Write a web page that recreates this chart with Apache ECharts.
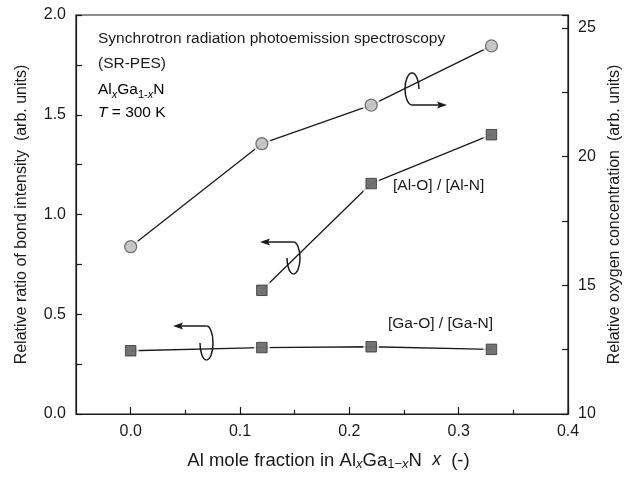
<!DOCTYPE html>
<html>
<head>
<meta charset="utf-8">
<script src="https://cdn.jsdelivr.net/npm/echarts@6/dist/echarts.min.js"></script>
<style>
html,body{margin:0;padding:0;background:#fff;}
#chart{width:631px;height:479px;}
</style>
</head>
<body>
<div id="chart"></div>
<script>
// ---- data ----
const oxygenX = [0, 0.12, 0.22, 0.33];
const oxygenConc = [16.5, 20.5, 22.0, 24.3];        // right axis
const alX = [0.12, 0.22, 0.33];
const alRatio = [0.62, 1.155, 1.40];                // [Al-O]/[Al-N], left axis
const gaX = [0, 0.12, 0.22, 0.33];
const gaRatio = [0.317, 0.333, 0.337, 0.324];       // [Ga-O]/[Ga-N], left axis
const xTicks = [0.0, 0.1, 0.2, 0.3, 0.4];
const xMinorTicks = [0.05, 0.15, 0.25, 0.35];
const leftTicks = [0.0, 0.5, 1.0, 1.5, 2.0];
const rightTicks = [10, 15, 20, 25];

const pairs = (xs, ys) => xs.map((x, i) => [x, ys[i]]);
const FONT = '"Liberation Sans", Arial, Helvetica, sans-serif';
const INK = '#1a1a1a';

const chart = echarts.init(document.getElementById('chart'), null, {renderer: 'canvas'});

function curl(cx, cy, rx, ry, dir, tipX) {
  const k = 0.5523;
  const els = [];
  const st = {stroke: INK, lineWidth: 1.5, fill: null};
  const q = (x1, y1, c1x, c1y, c2x, c2y, x2, y2) => ({
    type: 'bezierCurve', silent: true,
    shape: {x1, y1, cpx1: c1x, cpy1: c1y, cpx2: c2x, cpy2: c2y, x2, y2},
    style: st
  });
  let ay;
  if (dir === 'left') {
    ay = cy - ry;
    els.push(q(cx, cy - ry, cx + k * rx, cy - ry, cx + rx, cy - k * ry, cx + rx, cy));
    els.push(q(cx + rx, cy, cx + rx, cy + k * ry, cx + k * rx, cy + ry, cx, cy + ry));
    els.push(q(cx, cy + ry, cx - k * rx, cy + ry, cx - rx, cy + k * ry, cx - rx, cy));
    els.push({type: 'line', silent: true, shape: {x1: cx, y1: ay, x2: tipX + 8, y2: ay}, style: st});
    els.push({type: 'polygon', silent: true,
      shape: {points: [[tipX, ay], [tipX + 10, ay - 3.5], [tipX + 8, ay], [tipX + 10, ay + 3.5]]},
      style: {fill: INK}});
  } else {
    ay = cy + ry;
    els.push(q(cx, cy + ry, cx - k * rx, cy + ry, cx - rx, cy + k * ry, cx - rx, cy));
    els.push(q(cx - rx, cy, cx - rx, cy - k * ry, cx - k * rx, cy - ry, cx, cy - ry));
    els.push(q(cx, cy - ry, cx + k * rx, cy - ry, cx + rx, cy - k * ry, cx + rx, cy));
    els.push({type: 'line', silent: true, shape: {x1: cx, y1: ay, x2: tipX - 8, y2: ay}, style: st});
    els.push({type: 'polygon', silent: true,
      shape: {points: [[tipX, ay], [tipX - 10, ay - 3.5], [tipX - 8, ay], [tipX - 10, ay + 3.5]]},
      style: {fill: INK}});
  }
  return els;
}

const subRich = {
  n: {fontSize: 15.5, fontFamily: FONT, color: INK, lineHeight: 18, verticalAlign: 'top'},
  s: {fontSize: 11, fontFamily: FONT, color: INK, lineHeight: 12, padding: [9, 0, 0, 0], verticalAlign: 'bottom'},
  si: {fontSize: 11, fontFamily: FONT, color: INK, fontStyle: 'italic', lineHeight: 12, padding: [9, 0, 0, 0], verticalAlign: 'bottom'},
  i: {fontSize: 15.5, fontFamily: FONT, color: INK, fontStyle: 'italic', lineHeight: 18, verticalAlign: 'top'}
};
const nameRich = {
  n: {fontSize: 18.5, fontFamily: FONT, color: INK, lineHeight: 20, verticalAlign: 'top'},
  s: {fontSize: 13, fontFamily: FONT, color: INK, lineHeight: 14, padding: [10, 0, 0, 0], verticalAlign: 'bottom'},
  si: {fontSize: 13, fontFamily: FONT, color: INK, fontStyle: 'italic', lineHeight: 14, padding: [10, 0, 0, 0], verticalAlign: 'bottom'},
  i: {fontSize: 17.5, fontFamily: FONT, color: INK, fontStyle: 'italic', lineHeight: 20, verticalAlign: 'top'}
};

const leftFmt = v => {
  const hit = leftTicks.find(t => Math.abs(t - v) < 1e-9);
  return hit === undefined ? '' : hit.toFixed(1);
};
const rightFmt = v => {
  const hit = rightTicks.find(t => Math.abs(t - v) < 1e-9);
  return hit === undefined ? '' : String(hit);
};

const axisLineStyle = {color: INK, width: 1.2};

const option = {
  animation: false,
  backgroundColor: '#fff',
  grid: {left: 76, right: 63, top: 15, bottom: 65, show: true, borderColor: INK, borderWidth: 1.2, backgroundColor: 'transparent'},
  xAxis: [
    {
      type: 'value', min: -0.05, max: 0.4, interval: 0.05, position: 'bottom',
      axisLine: {show: true, onZero: false, lineStyle: axisLineStyle},
      axisTick: {show: true, inside: true, length: 7, customValues: xTicks, lineStyle: axisLineStyle},
      splitLine: {show: false},
      axisLabel: {customValues: xTicks, formatter: v => v.toFixed(1), fontSize: 16, fontFamily: FONT, color: INK, margin: 10},
      name: '{n|Al mole fraction in Al}{si|x}{n|Ga}{s|1−}{si|x}{n|N  }{i|x}{n|  (-)}',
      nameLocation: 'middle', nameGap: 37,
      nameTextStyle: {rich: nameRich, padding: [0, 0, 0, 13]}
    },
    {
      type: 'value', min: -0.05, max: 0.4, interval: 0.05, position: 'bottom', offset: 0,
      axisLine: {show: false},
      axisTick: {show: true, inside: true, length: 4, customValues: xMinorTicks, lineStyle: axisLineStyle},
      splitLine: {show: false},
      axisLabel: {show: false}
    }
  ],
  yAxis: [
    {
      type: 'value', min: 0, max: 2, interval: 0.25,
      axisLine: {show: true, onZero: false, lineStyle: axisLineStyle},
      axisTick: {show: true, inside: true, length: 6, lineStyle: axisLineStyle},
      splitLine: {show: false},
      axisLabel: {formatter: leftFmt, fontSize: 16, fontFamily: FONT, color: INK, margin: 10},
      name: 'Relative ratio of bond intensity  (arb. units)',
      nameLocation: 'middle', nameGap: 46,
      nameTextStyle: {fontSize: 16, fontFamily: FONT, color: INK}
    },
    {
      type: 'value', min: 10, max: 25.5, interval: 2.5, position: 'right',
      axisLine: {show: true, onZero: false, lineStyle: axisLineStyle},
      axisTick: {show: true, inside: true, length: 6, lineStyle: axisLineStyle},
      splitLine: {show: false},
      axisLabel: {formatter: rightFmt, fontSize: 16, fontFamily: FONT, color: INK, margin: 10},
      name: 'Relative oxygen concentration  (arb. units)',
      nameLocation: 'middle', nameGap: 37,
      nameTextStyle: {fontSize: 16, fontFamily: FONT, color: INK}
    }
  ],
  series: [
    {type: 'line', yAxisIndex: 1, data: pairs(oxygenX, oxygenConc), showSymbol: false, symbol: 'none',
      lineStyle: {color: INK, width: 1.3}, z: 2, silent: true},
    {type: 'line', yAxisIndex: 0, data: pairs(alX, alRatio), showSymbol: false, symbol: 'none',
      lineStyle: {color: INK, width: 1.3}, z: 2, silent: true},
    {type: 'line', yAxisIndex: 0, data: pairs(gaX, gaRatio), showSymbol: false, symbol: 'none',
      lineStyle: {color: INK, width: 1.3}, z: 2, silent: true},
    {type: 'scatter', yAxisIndex: 1, data: pairs(oxygenX, oxygenConc), symbol: 'circle', symbolSize: 18,
      itemStyle: {color: '#fff'}, z: 3, silent: true},
    {type: 'scatter', yAxisIndex: 0, data: pairs(alX, alRatio), symbol: 'rect', symbolSize: 16,
      itemStyle: {color: '#fff'}, z: 3, silent: true},
    {type: 'scatter', yAxisIndex: 0, data: pairs(gaX, gaRatio), symbol: 'rect', symbolSize: 16,
      itemStyle: {color: '#fff'}, z: 3, silent: true},
    {type: 'scatter', yAxisIndex: 1, data: pairs(oxygenX, oxygenConc), symbol: 'circle', symbolSize: 12,
      itemStyle: {color: '#b9b9b9', borderColor: '#555', borderWidth: 1.3}, z: 4, silent: true},
    {type: 'scatter', yAxisIndex: 0, data: pairs(alX, alRatio), symbol: 'rect', symbolSize: 10.5,
      itemStyle: {color: '#505050', borderColor: '#333', borderWidth: 1}, z: 4, silent: true},
    {type: 'scatter', yAxisIndex: 0, data: pairs(gaX, gaRatio), symbol: 'rect', symbolSize: 10.5,
      itemStyle: {color: '#505050', borderColor: '#333', borderWidth: 1}, z: 4, silent: true}
  ],
  graphic: [
    {type: 'text', left: 98, top: 31, silent: true,
      style: {text: 'Synchrotron radiation photoemission spectroscopy', fontSize: 15.5, fontFamily: FONT, fill: INK}},
    {type: 'text', left: 98, top: 56, silent: true,
      style: {text: '(SR-PES)', fontSize: 15.5, fontFamily: FONT, fill: INK}},
    {type: 'text', left: 98, top: 80, silent: true,
      style: {text: '{n|Al}{si|x}{n|Ga}{s|1-}{si|x}{n|N}', rich: subRich}},
    {type: 'text', left: 98, top: 105, silent: true,
      style: {text: '{i|T}{n| = 300 K}', rich: subRich}},
    {type: 'text', left: 393, top: 178, silent: true,
      style: {text: '[Al-O] / [Al-N]', fontSize: 15.5, fontFamily: FONT, fill: INK}},
    {type: 'text', left: 388, top: 316, silent: true,
      style: {text: '[Ga-O] / [Ga-N]', fontSize: 15.5, fontFamily: FONT, fill: INK}}
  ]
    .concat(curl(412, 89, 7, 16, 'right', 447))
    .concat(curl(293.5, 258, 6.5, 16, 'left', 260))
    .concat(curl(206.5, 343, 6.5, 17, 'left', 173))
};

chart.setOption(option);
</script>
</body>
</html>
